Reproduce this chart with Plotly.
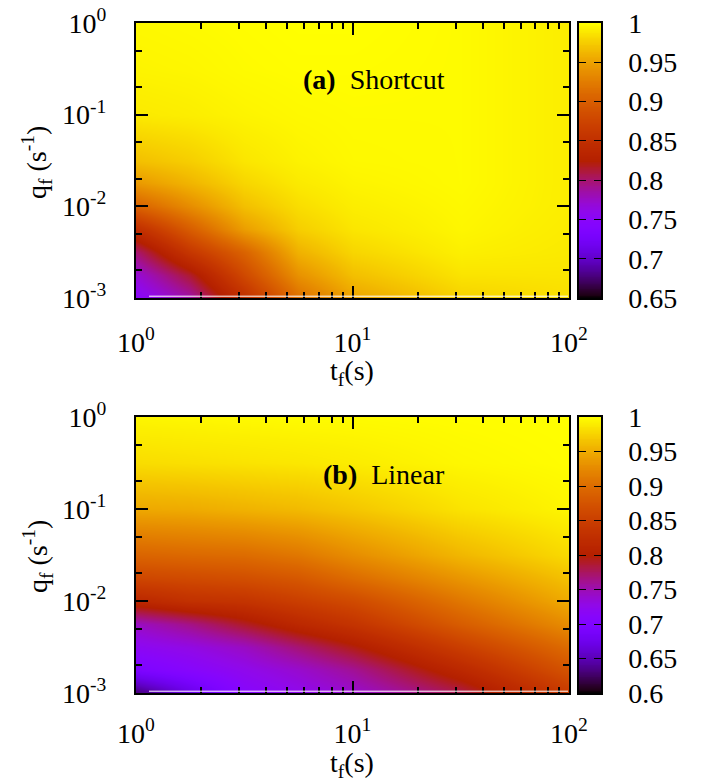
import numpy as np
import plotly.graph_objects as go

# Final time t_f (s) and final rate q_f (1/s) sample points
t_f = [1.0, 1.778, 3.162, 5.623, 10.0, 31.62, 100.0]
q_f = [1e-3, 1.778e-3, 3.162e-3, 5.623e-3, 1e-2, 1.778e-2, 3.162e-2, 1e-1, 3.162e-1, 1.0]

# Fidelity, rows follow q_f, columns follow t_f
fid_shortcut = [
    [0.750, 0.785, 0.850, 0.915, 0.952, 0.978, 0.985],
    [0.770, 0.815, 0.880, 0.940, 0.968, 0.987, 0.988],
    [0.800, 0.860, 0.905, 0.960, 0.980, 0.993, 0.990],
    [0.848, 0.900, 0.948, 0.976, 0.988, 0.996, 0.991],
    [0.905, 0.937, 0.968, 0.984, 0.992, 0.997, 0.992],
    [0.945, 0.962, 0.980, 0.990, 0.995, 0.998, 0.992],
    [0.968, 0.976, 0.988, 0.994, 0.997, 0.998, 0.992],
    [0.990, 0.992, 0.995, 0.997, 0.998, 0.998, 0.992],
    [0.995, 0.996, 0.998, 0.999, 0.999, 0.998, 0.992],
    [0.997, 0.998, 0.999, 1.000, 1.000, 0.998, 0.992],
]
fid_linear = [
    [0.630, 0.670, 0.710, 0.725, 0.740, 0.780, 0.845],
    [0.695, 0.710, 0.725, 0.740, 0.760, 0.815, 0.875],
    [0.720, 0.730, 0.745, 0.770, 0.795, 0.850, 0.900],
    [0.745, 0.765, 0.790, 0.815, 0.835, 0.885, 0.928],
    [0.815, 0.830, 0.835, 0.850, 0.865, 0.910, 0.950],
    [0.860, 0.865, 0.870, 0.880, 0.900, 0.935, 0.965],
    [0.893, 0.897, 0.900, 0.910, 0.928, 0.958, 0.980],
    [0.948, 0.950, 0.955, 0.960, 0.968, 0.985, 0.995],
    [0.981, 0.983, 0.985, 0.987, 0.990, 0.996, 0.999],
    [0.995, 0.996, 0.997, 0.998, 0.998, 0.999, 1.000],
]

cb_ticks_shortcut = [0.65, 0.7, 0.75, 0.8, 0.85, 0.9, 0.95, 1.0]
cb_text_shortcut = ["0.65", "0.7", "0.75", "0.8", "0.85", "0.9", "0.95", "1"]
cb_ticks_linear = [0.6, 0.65, 0.7, 0.75, 0.8, 0.85, 0.9, 0.95, 1.0]
cb_text_linear = ["0.6", "0.65", "0.7", "0.75", "0.8", "0.85", "0.9", "0.95", "1"]

t_major = [1, 10, 100]
t_major_text = ["10<sup>0</sup>", "10<sup>1</sup>", "10<sup>2</sup>"]
t_minor = [2, 3, 4, 5, 6, 7, 8, 9, 20, 30, 40, 50, 60, 70, 80, 90]
q_major = [1e-3, 1e-2, 1e-1, 1]
q_major_text = ["10<sup>-3</sup>", "10<sup>-2</sup>", "10<sup>-1</sup>", "10<sup>0</sup>"]
q_minor = [2e-3, 5e-3, 2e-2, 5e-2, 2e-1, 5e-1]


# gnuplot default pm3d palette (rgbformulae 7,5,15)
def pm3d_scale(n=96):
    stops = []
    for i in range(n + 1):
        x = i / n
        r = np.sqrt(x)
        g = x ** 3
        b = max(0.0, np.sin(2 * np.pi * x))
        stops.append([x, "rgb({:.0f},{:.0f},{:.0f})".format(255 * r, 255 * g, 255 * b)])
    return stops


PAL = pm3d_scale()
FONT = "Liberation Serif, Times New Roman, Times, serif"
FS = 28
W, H = 706, 782
TXT = dict(family=FONT, size=FS, color="black")

fig = go.Figure()

# pixel geometry of the panels
px_left, px_right = 136, 569
cb_left, cb_right = 579, 601
panels = [
    dict(top=23, bottom=298, z=fid_shortcut, zmin=0.65, ticks=cb_ticks_shortcut,
         text=cb_text_shortcut, label="<b>(a)</b>  Shortcut",
         title_gap=74, xstand=18),
    dict(top=417, bottom=693, z=fid_linear, zmin=0.6, ticks=cb_ticks_linear,
         text=cb_text_linear, label="<b>(b)</b>  Linear",
         title_gap=71, xstand=14),
]

axis_line = dict(showline=True, linecolor="black", linewidth=2, mirror="allticks",
                 ticks="inside", tickcolor="black", tickwidth=1.5, ticklen=12,
                 showgrid=False, zeroline=False, automargin=False, tickfont=TXT)

for k, p in enumerate(panels):
    n = 2 * k + 1
    xa = "x" if n == 1 else "x%d" % n
    ya = "y" if n == 1 else "y%d" % n
    xcb = "x%d" % (n + 1)
    ycb = "y%d" % (n + 1)
    ydom = [1 - p["bottom"] / H, 1 - p["top"] / H]

    fig.add_trace(go.Heatmap(
        x=t_f, y=q_f, z=p["z"], zsmooth="best", colorscale=PAL,
        zmin=p["zmin"], zmax=1.0, showscale=False, xaxis=xa, yaxis=ya,
    ))

    # colour key drawn as a thin gradient strip
    levels = list(np.linspace(p["zmin"], 1.0, 161))
    fig.add_trace(go.Heatmap(
        x=[0, 1], y=levels, z=[[v, v] for v in levels], zsmooth="best",
        colorscale=PAL, zmin=p["zmin"], zmax=1.0, showscale=False,
        xaxis=xcb, yaxis=ycb,
    ))

    fig.layout["xaxis" if n == 1 else "xaxis%d" % n] = dict(
        axis_line, type="log", domain=[px_left / W, px_right / W], anchor=ya,
        range=[0, 2], tickmode="array", tickvals=t_major, ticktext=t_major_text,
        ticklabelstandoff=p["xstand"],
        minor=dict(tickmode="array", tickvals=t_minor, ticks="inside", ticklen=6,
                   tickwidth=1.5, tickcolor="black"),
    )
    fig.layout["yaxis" if n == 1 else "yaxis%d" % n] = dict(
        axis_line, type="log", domain=ydom, anchor=xa,
        range=[-3, 0], tickmode="array", tickvals=q_major, ticktext=q_major_text,
        ticklabelstandoff=22,
        minor=dict(tickmode="array", tickvals=q_minor, ticks="inside", ticklen=6,
                   tickwidth=1.5, tickcolor="black"),
    )
    fig.layout["xaxis%d" % (n + 1)] = dict(
        domain=[cb_left / W, cb_right / W], anchor=ycb, range=[0, 1],
        showline=True, linecolor="black", linewidth=1.5, mirror=True,
        ticks="", showticklabels=False, showgrid=False, zeroline=False,
        automargin=False,
    )
    fig.layout["yaxis%d" % (n + 1)] = dict(
        domain=ydom, anchor=xcb, side="right", range=[p["zmin"], 1.0],
        tickmode="array", tickvals=p["ticks"], ticktext=p["text"],
        showline=True, linecolor="black", linewidth=1.5, mirror="ticks",
        ticks="inside", ticklen=7, tickwidth=1.2, tickcolor="black",
        showgrid=False, zeroline=False, ticklabelstandoff=20,
        automargin=False, tickfont=TXT,
    )

    # thin light seam just above the lower frame edge
    fig.add_shape(
        type="line", xref="paper", yref="paper",
        x0=149 / W, x1=568 / W,
        y0=1 - (p["bottom"] - 1.8) / H, y1=1 - (p["bottom"] - 1.8) / H,
        line=dict(color="white", width=1), layer="above",
    )

    # panel label
    fig.add_annotation(
        x=447 / W, y=1 - (p["top"] + 57) / H, xref="paper", yref="paper",
        xanchor="right", yanchor="middle", showarrow=False, text=p["label"],
        font=TXT,
    )
    # axis titles
    fig.add_annotation(
        x=352 / W, y=1 - (p["bottom"] + p["title_gap"]) / H, xref="paper", yref="paper",
        xanchor="center", yanchor="middle", showarrow=False,
        text="t<sub>f</sub>(s)", font=TXT,
    )
    fig.add_annotation(
        x=37 / W, y=1 - (p["top"] + 140) / H, xref="paper", yref="paper",
        xanchor="center", yanchor="middle", showarrow=False, textangle=-90,
        text="q<sub>f</sub> (s<sup>-1</sup>)", font=TXT,
    )

fig.update_layout(
    template="none", width=W, height=H, margin=dict(l=0, r=0, t=0, b=0),
    paper_bgcolor="white", plot_bgcolor="white", showlegend=False,
    font=TXT,
)

fig.write_html("out.html")
